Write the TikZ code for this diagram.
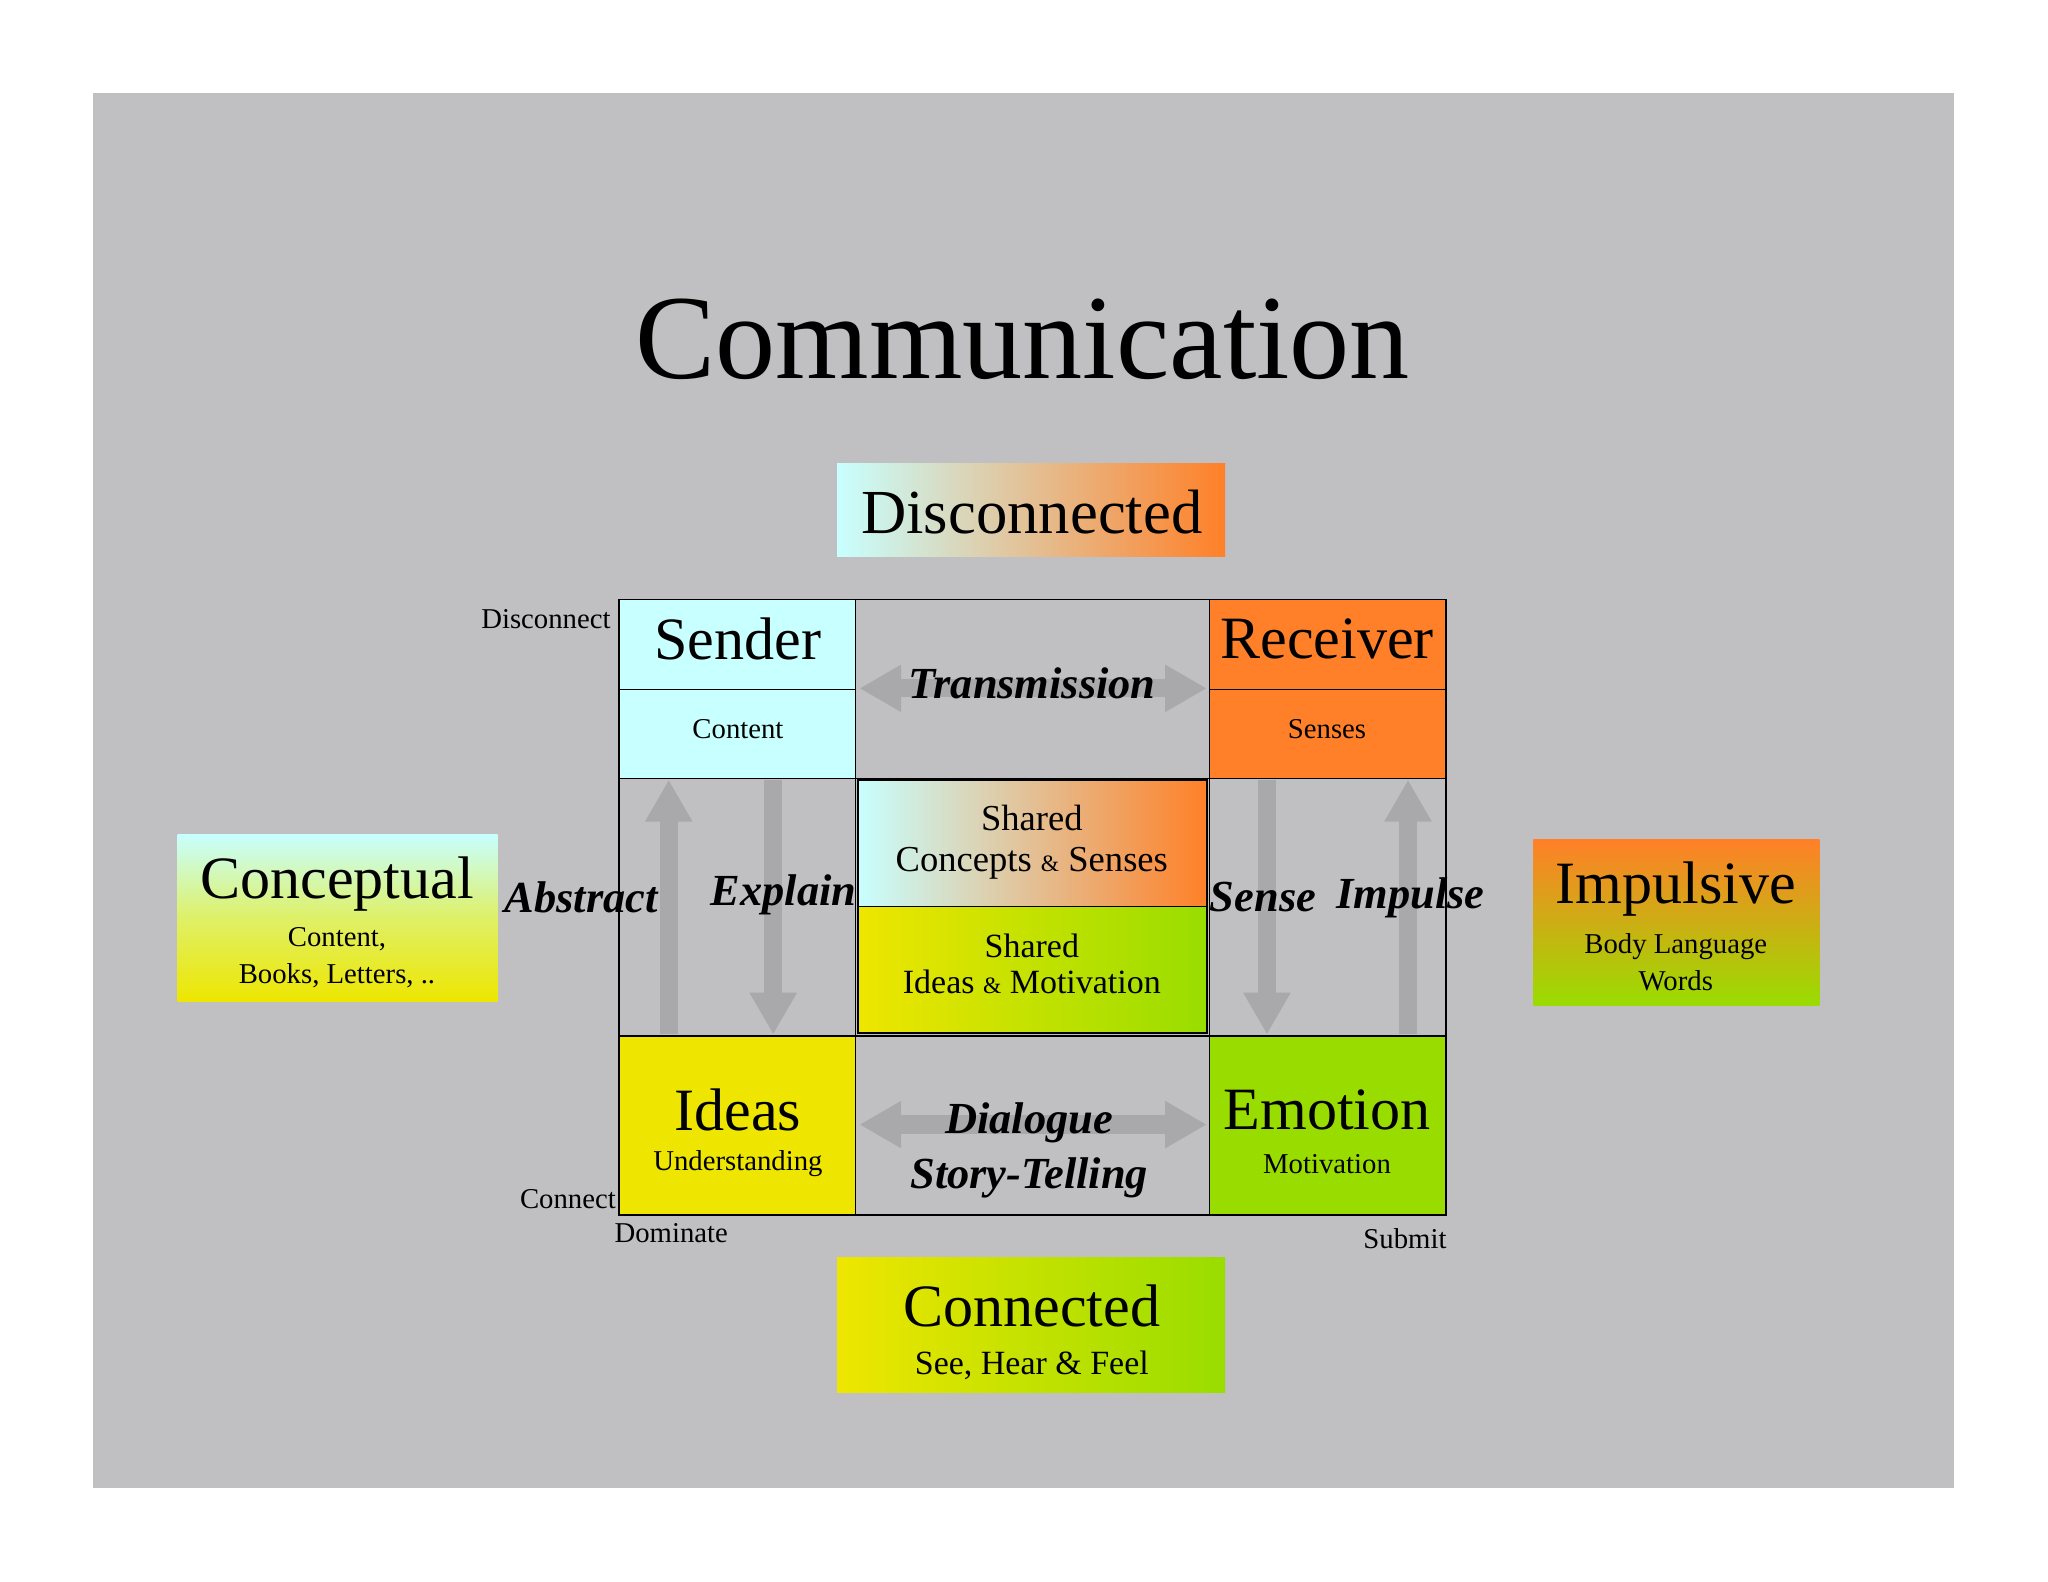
\documentclass[tikz,border=0pt]{standalone}
\usepackage{fontspec}
\setmainfont{Liberation Serif}
\usetikzlibrary{arrows.meta}
\definecolor{bg}{HTML}{C0BFC1}
\definecolor{cy}{HTML}{C8FFFF}
\definecolor{og}{HTML}{FF8028}
\definecolor{ye}{HTML}{EEE600}
\definecolor{gr}{HTML}{99DD00}
\definecolor{ar}{HTML}{A9A8AA}
\newcommand{\fs}[1]{\fontsize{#1}{\dimexpr #1pt*12/10\relax}\selectfont}
\tikzset{
 cell/.style={draw=black,line width=1.2pt},
 big/.style={font=\fs{46}},
 small/.style={font=\fs{22}},
 lab/.style={font=\fs{34}\bfseries\itshape},
 garrow/.style={ar,line width=14pt,-{Triangle[length=32pt,width=34pt]}},
 darrow/.style={ar,line width=14pt,{Triangle[length=32pt,width=34pt]}-{Triangle[length=32pt,width=34pt]}},
}
\begin{document}
\begin{tikzpicture}[x=1pt,y=-1pt]
\useasboundingbox (0,0) rectangle (1568,1211);
\fill[white] (0,0) rectangle (1568,1211);
\fill[bg] (71,71) rectangle (1496,1139);
\node (title) at (783,260) {\fs{92}Communication};
% Disconnected
\shade[left color=cy,right color=og,middle color=cy!50!og] (641,355) rectangle (938,426);
\node (disc) at (790,392) {\fs{48}Disconnected};
% grid cells
\fill[cy] (474,459) rectangle (655,596);
\fill[og] (926,459) rectangle (1107,596);
\fill[ye] (474,793) rectangle (655,930);
\fill[gr] (926,793) rectangle (1107,930);
\shade[left color=cy,right color=og] (657,597) rectangle (924,694);
\shade[left color=ye,right color=gr] (657,694) rectangle (924,791);
\draw[cell] (474,459) rectangle (1107,930);
\draw[cell] (655,459) -- (655,930) (926,459) -- (926,930);
\draw[cell] (474,596) -- (1107,596) (474,793) -- (1107,793);
\draw[cell] (474,528) -- (655,528) (926,528) -- (1107,528);
\draw[cell] (657,597) rectangle (924,791) (657,694) -- (924,694);
% arrows
\coordinate (a1s) at (512,792); \coordinate (a1e) at (512,597);
\coordinate (a2s) at (592,597); \coordinate (a2e) at (592,792);
\coordinate (a3s) at (970,597); \coordinate (a3e) at (970,792);
\coordinate (a4s) at (1078,792); \coordinate (a4e) at (1078,597);
\coordinate (t1) at (658,527); \coordinate (t2) at (924,527);
\coordinate (d1) at (658,861); \coordinate (d2) at (924,861);
\draw[garrow] (a1s) -- (a1e);
\draw[garrow] (a2s) -- (a2e);
\draw[garrow] (a3s) -- (a3e);
\draw[garrow] (a4s) -- (a4e);
\draw[darrow] (t1) -- (t2);
\draw[darrow] (d1) -- (d2);
% texts
\node[big] (sender) at (565,489) {Sender};
\node[small] (content) at (565,558) {Content};
\node[big] (recv) at (1016,489) {Receiver};
\node[small] (senses) at (1016,558) {Senses};
\node[font=\fs{28},align=center] (shc) at (790,645) {Shared\\[-2pt]Concepts {\fs{18}\&} Senses};
\node[font=\fs{26},align=center] (shi) at (790,738) {Shared\\[-4pt]Ideas {\fs{18}\&} Motivation};
\node[big] (ideas) at (565,850) {Ideas};
\node[small] (und) at (565,891) {Understanding};
\node[big] (emo) at (1016,850) {Emotion};
\node[small] (mot) at (1016,891) {Motivation};
\node[lab] (trans) at (790,523) {Transmission};
\node[lab] (abs) at (445,687) {Abstract};
\node[lab] (expl) at (600,685) {Explain};
\node[lab] (sense) at (967,687) {Sense};
\node[lab] (imp) at (1080,687) {Impulse};
\node[lab] (dia) at (788,860) {Dialogue};
\node[lab] (story) at (788,902) {Story-Telling};
\node[small,anchor=east] (dc) at (471,474) {Disconnect};
\node[small,anchor=east] (cn) at (475,918) {Connect};
\node[small,anchor=west] (dom) at (467,944) {Dominate};
\node[small,anchor=east] (sub) at (1111,948) {Submit};
% side boxes
\shade[top color=cy,bottom color=ye,middle color=cy!40!ye] (136,639) rectangle (381,767);
\node[big] (concept) at (258,677) {Conceptual};
\node[small,align=center] (cb) at (258,733) {Content,\\[2pt]Books, Letters, ..};
\shade[top color=og,bottom color=gr] (1174,643) rectangle (1393,770);
\node[big] (impl) at (1283,681) {Impulsive};
\node[small,align=center] (ib) at (1283,737) {Body Language\\[2pt]Words};
\shade[left color=ye,right color=gr] (641,963) rectangle (938,1066);
\node[big] (conn) at (790,1000) {Connected};
\node[font=\fs{26}] (shf) at (790,1045) {See, Hear \& Feel};
\end{tikzpicture}
\end{document}
